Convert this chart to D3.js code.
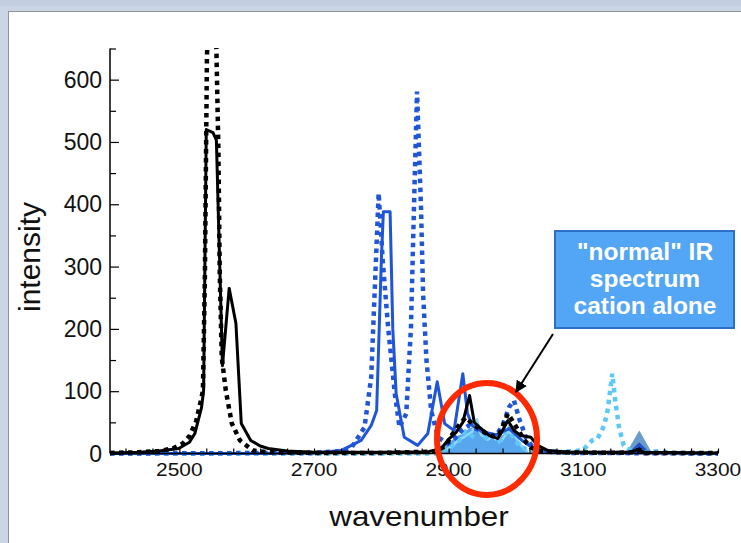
<!DOCTYPE html>
<html>
<head>
<meta charset="utf-8">
<script src="https://cdn.jsdelivr.net/npm/d3@7/dist/d3.min.js"></script>
<style>
  html, body { margin: 0; padding: 0; background: #cbd5e5; }
  svg { display: block; font-family: "Liberation Sans", Arial, Helvetica, sans-serif; }
</style>
</head>
<body>
<svg id="chart" width="741" height="543"></svg>
<script>
// ---- spectra: wavenumber / intensity pairs ----
const blackDottedX = [2397,2440,2470,2490,2505,2515,2525,2532,2535,2538,2541,2546,2553,2558,2560,2563,2569,2578,2590,2609,2630,2700,2800,2880,2895,2905,2915,2925,2935,2945,2955,2965,2975,2982,2988,2995,3003,3012,3022,3035,3060,3150,3175,3183,3192,3300];
const blackDottedY = [1,2,4,8,16,28,52,85,101,290,640,760,760,486,289,154,101,48,21,5,2,1,1,3,12,30,45,58,48,40,33,28,30,48,64,52,38,22,10,4,2,1,2,6,1,1];

const blackSolidX = [2397,2440,2470,2499,2515,2523,2533,2536,2540,2550,2555,2564,2574,2584,2592,2606,2620,2632,2660,2700,2800,2870,2889,2901,2911,2921,2931,2938,2948,2960,2973,2980,2988,2997,3007,3022,3032,3047,3080,3170,3180,3190,3300];
const blackSolidY = [1,2,4,8,18,32,74,101,520,515,503,141,265,209,48,21,12,8,4,2,2,3,8,24,34,50,93,50,40,29,24,37,53,37,29,26,13,5,2,2,6,2,1];

const blueSolidX = [2397,2600,2700,2741,2770,2785,2793,2800,2803,2813,2817,2822,2834,2854,2869,2883,2894,2908,2921,2928,2935,2950,2970,2990,3010,3030,3060,3300];
const blueSolidY = [0,0,1,5,21,45,69,310,388,388,200,96,26,13,32,115,48,37,128,64,45,35,30,40,20,5,2,0];

const blueDottedX = [2397,2700,2740,2756,2775,2785,2790,2796,2802,2810,2820,2827,2837,2844,2849,2853,2859,2862,2867,2874,2884,2899,2910,2920,2930,2940,2950,2960,2970,2980,2990,2997,3005,3015,3025,3040,3080,3300];
const blueDottedY = [0,1,4,10,42,123,257,418,310,203,96,42,64,203,418,581,391,257,150,69,26,16,25,38,45,40,35,30,28,45,75,85,55,25,10,4,1,0];

const cyanDottedX = [2397,2880,2900,2915,2925,2935,2945,2955,2965,2975,2985,2995,3005,3020,3060,3099,3113,3121,3126,3131,3136,3143,3148,3153,3160,3170,3190,3215,3225,3300];
const cyanDottedY = [0,0,8,20,35,28,45,25,30,20,35,28,12,4,2,5,21,24,34,45,69,128,80,42,13,5,2,4,1,0];

const cyanSolidX = [2895,2905,2915,2925,2935,2942,2948,2958,2968,2978,2988,2998,3008,3018];
const cyanSolidY = [5,12,22,28,35,55,30,22,30,20,35,28,12,3];

const bandFillX = [2880,2893,2904,2914,2923,2930,2941,2950,2960,2970,2983,2990,2997,3004,3012,3020];
const bandFillY = [0,10,21,29,32,40,45,35,28,21,32,48,37,21,10,0];

const steelFillX = [3160,3166,3183,3200,3207];
const steelFillY = [0,5,37,5,0];

const navyFillX = [3166,3183,3200];
const navyFillY = [0,18,0];

// ---- axis ticks ----
const xMinorTicks = d3.range(2420, 3301, 40);
const xLabels = [2500, 2700, 2900, 3100, 3300];
const yMajorTicks = [0, 100, 200, 300, 400, 500, 600];
const yMinorTicks = [50, 150, 250, 350, 450, 550, 650];

const calloutLines = ['"normal" IR', 'spectrum', 'cation alone'];

const zip = (xs, ys) => xs.map((x, i) => [x, ys[i]]);

const svg = d3.select("#chart");

// slide sheet
svg.append("rect").attr("x", 0).attr("y", 0).attr("width", 741).attr("height", 543).attr("fill", "#cbd5e5");
svg.append("rect").attr("x", 0).attr("y", 0).attr("width", 741).attr("height", 6).attr("fill", "#c3cee0");
svg.append("rect").attr("x", 8.5).attr("y", 11.5).attr("width", 740).attr("height", 540)
  .attr("fill", "#ffffff").attr("stroke", "#8d929b").attr("stroke-width", 1);

const x = d3.scaleLinear().domain([2397, 3300]).range([110, 718]);
const y = d3.scaleLinear().domain([0, 650]).range([453.5, 48.5]);

svg.append("defs").append("clipPath").attr("id", "plotclip")
  .append("rect").attr("x", 110).attr("y", 48).attr("width", 610).attr("height", 408);

const plot = svg.append("g").attr("clip-path", "url(#plotclip)");

const line = d3.line().x(d => x(d[0])).y(d => y(d[1]));
const area = d3.area().x(d => x(d[0])).y0(y(0)).y1(d => y(d[1]));

plot.append("path").datum(zip(bandFillX, bandFillY)).attr("d", area).attr("fill", "#58a6ee");
plot.append("path").datum(zip(steelFillX, steelFillY)).attr("d", area).attr("fill", "#6a9ccc");
plot.append("path").datum(zip(navyFillX, navyFillY)).attr("d", area).attr("fill", "#2452c4");

const dotted = "4.5,4.5";
plot.append("path").datum(zip(cyanSolidX, cyanSolidY)).attr("d", line)
  .attr("fill", "none").attr("stroke", "#8fd8f4").attr("stroke-width", 2.5).attr("stroke-linejoin", "round");
plot.append("path").datum(zip(cyanDottedX, cyanDottedY)).attr("d", line)
  .attr("fill", "none").attr("stroke", "#5cc8f6").attr("stroke-width", 4.5).attr("stroke-dasharray", dotted);
plot.append("path").datum(zip(blueSolidX, blueSolidY)).attr("d", line)
  .attr("fill", "none").attr("stroke", "#1f55d6").attr("stroke-width", 3).attr("stroke-linejoin", "round");
plot.append("path").datum(zip(blueDottedX, blueDottedY)).attr("d", line)
  .attr("fill", "none").attr("stroke", "#1f55d6").attr("stroke-width", 4.5).attr("stroke-dasharray", dotted);
plot.append("path").datum(zip(blackSolidX, blackSolidY)).attr("d", line)
  .attr("fill", "none").attr("stroke", "#000").attr("stroke-width", 3).attr("stroke-linejoin", "round");
plot.append("path").datum(zip(blackDottedX, blackDottedY)).attr("d", line)
  .attr("fill", "none").attr("stroke", "#000").attr("stroke-width", 4.5).attr("stroke-dasharray", dotted);

// axes
const xAxis = svg.append("g").attr("transform", `translate(0,${y(0)})`)
  .call(d3.axisBottom(x).tickValues(xMinorTicks).tickSize(-5).tickFormat(""));
xAxis.select(".domain").attr("d", `M${x(2397)},0H${x(3300)}`).attr("stroke-width", 1.5);
xAxis.selectAll(".tick line").attr("stroke-width", 1.2);

const yAxis = svg.append("g").attr("transform", `translate(${x(2397)},0)`)
  .call(d3.axisLeft(y).tickValues(yMajorTicks).tickSize(-9).tickFormat(""));
yAxis.select(".domain").attr("d", `M0,${y(0)}V${y(650)}`).attr("stroke-width", 1.5);
yAxis.selectAll(".tick line").attr("stroke-width", 1.2);
const yMinor = svg.append("g").attr("transform", `translate(${x(2397)},0)`)
  .call(d3.axisLeft(y).tickValues(yMinorTicks).tickSize(-6).tickFormat(""));
yMinor.select(".domain").remove();
yMinor.selectAll(".tick line").attr("stroke-width", 1.2);

// tick labels
svg.append("g").selectAll("text").data(xLabels).join("text")
  .attr("transform", d => `translate(${x(d)},476) scale(1.1,1)`)
  .attr("text-anchor", "middle").attr("font-size", 19).attr("fill", "#111")
  .text(d => d);
svg.append("g").selectAll("text").data(yMajorTicks).join("text")
  .attr("x", 102).attr("y", d => y(d) + 8)
  .attr("text-anchor", "end").attr("font-size", 23).attr("fill", "#111")
  .text(d => d);

// axis titles
svg.append("text").attr("transform", "translate(419,526) scale(1.1,1)")
  .attr("text-anchor", "middle").attr("font-size", 28.5).attr("fill", "#111").text("wavenumber");
svg.append("text").attr("transform", "translate(40,257) rotate(-90)")
  .attr("text-anchor", "middle").attr("font-size", 30).attr("fill", "#111").text("intensity");

// highlight ring
svg.append("ellipse").attr("cx", 487).attr("cy", 439).attr("rx", 50).attr("ry", 56)
  .attr("fill", "none").attr("stroke", "#ff2a00").attr("stroke-width", 6);

// callout arrow
svg.append("defs").append("marker").attr("id", "head")
  .attr("viewBox", "0 0 10 10").attr("refX", 9).attr("refY", 5)
  .attr("markerWidth", 6).attr("markerHeight", 6).attr("orient", "auto")
  .append("path").attr("d", "M0,0L10,5L0,10z").attr("fill", "#000");
svg.append("line").attr("x1", 553).attr("y1", 334).attr("x2", 516).attr("y2", 392)
  .attr("stroke", "#000").attr("stroke-width", 2).attr("marker-end", "url(#head)");

// callout box
svg.append("rect").attr("x", 555).attr("y", 231).attr("width", 179).attr("height", 97)
  .attr("fill", "#52a6f5").attr("stroke", "#2d6fc6").attr("stroke-width", 2);
svg.append("g").selectAll("text").data(calloutLines).join("text")
  .attr("x", 645).attr("y", (d, i) => 260 + i * 27)
  .attr("text-anchor", "middle").attr("font-size", 24.5).attr("font-weight", "bold").attr("fill", "#fff")
  .text(d => d);
</script>
</body>
</html>
